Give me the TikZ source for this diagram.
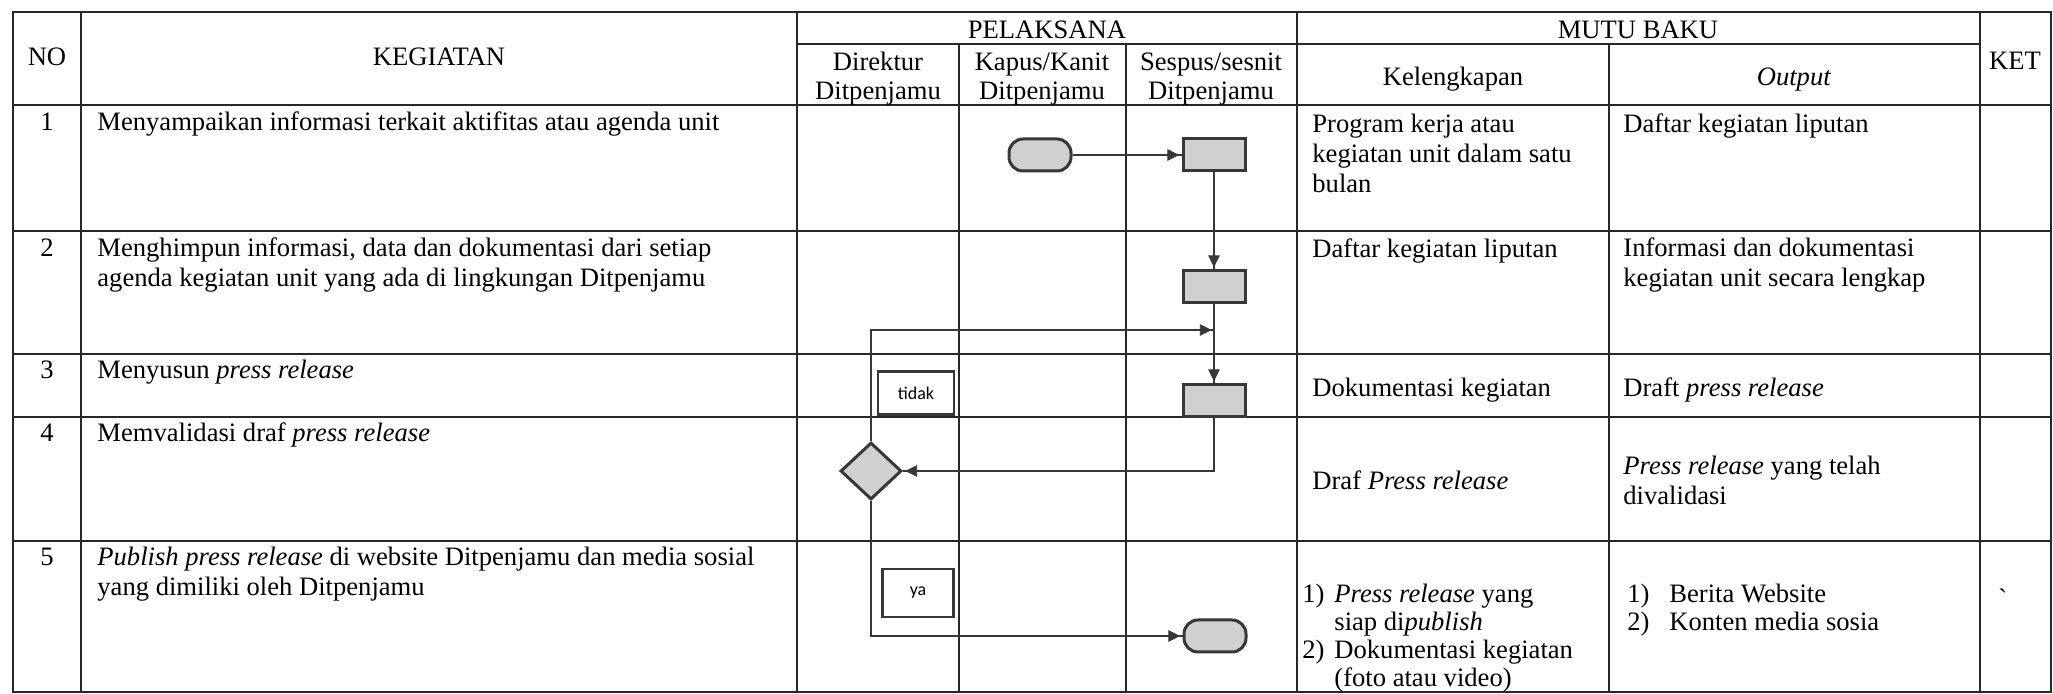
\documentclass[tikz,border=0pt]{standalone}
\usepackage{fontspec}
\setmainfont{Liberation Serif}
\newfontfamily\labelfont{Carlito}
\usepackage{tikz}
\usepackage{xcolor}
\definecolor{lgray}{RGB}{208,208,208}
\definecolor{dgray}{RGB}{55,55,55}
\definecolor{gridgray}{RGB}{40,40,40}
\usetikzlibrary{positioning, calc, shapes.geometric, arrows.meta, decorations.markings}
\newcommand{\cellbox}[1]{\begin{tabular}[t]{@{}l@{}}#1\end{tabular}}
\newcommand{\headbox}[1]{\begin{tabular}[t]{@{}c@{}}#1\end{tabular}}
\tikzstyle{Grid} = [line width=0.95pt, gridgray]
\tikzstyle{Cell} = [anchor=base west, inner sep=0pt,
font=\fontsize{13.3}{15}\selectfont]
\tikzstyle{ListCell} = [anchor=base west, inner sep=0pt,
font=\fontsize{13.3}{14}\selectfont]
\tikzstyle{Head} = [anchor=base, inner sep=0pt,
font=\fontsize{13.3}{14.5}\selectfont]
\tikzstyle{Terminal} = [draw=dgray, fill=lgray, line width=1.5pt,
rounded corners=7pt, minimum width=31pt, minimum height=16pt, inner sep=0pt]
\tikzstyle{Process} = [draw=dgray, fill=lgray, line width=1.5pt,
minimum width=31pt, minimum height=16pt, inner sep=0pt]
\tikzstyle{Decision} = [diamond, draw=dgray, fill=lgray, line width=1.5pt,
minimum width=30.5pt, minimum height=28.5pt, inner sep=0pt]
\tikzstyle{Answer} = [draw=dgray, fill=white, line width=1.4pt, inner sep=0pt,
font=\labelfont\fontsize{9}{10}\selectfont]
\tikzstyle{Arrow} = [
line width=1.35pt,
dgray,
decoration={
markings,
mark=at position 0.9999 with {
\arrow[dgray]{Triangle[length=7.5pt, width=7pt]}}},
preaction = {decorate}]

\begin{document}
\begin{tikzpicture}[x=0.5pt, y=-0.5pt]
    \fill[white] (0,0) rectangle (2053,694);
    \useasboundingbox (0,0) rectangle (2053,694);

    % table grid
    \draw[Grid] (13,12) rectangle (2051,692);
    \draw[Grid] (797,44) -- (1980,44);
    \draw[Grid] (13,105) -- (2051,105);
    \draw[Grid] (13,231) -- (2051,231);
    \draw[Grid] (13,354) -- (2051,354);
    \draw[Grid] (13,417) -- (2051,417);
    \draw[Grid] (13,541) -- (2051,541);
    \draw[Grid] (81,12) -- (81,692);
    \draw[Grid] (797,12) -- (797,692);
    \draw[Grid] (959,44) -- (959,692);
    \draw[Grid] (1126,44) -- (1126,692);
    \draw[Grid] (1297,12) -- (1297,692);
    \draw[Grid] (1609,44) -- (1609,692);
    \draw[Grid] (1980,12) -- (1980,692);

    % header
    \node[Head] (hno) at (47,66) {NO};
    \node[Head] (hkeg) at (439,66) {KEGIATAN};
    \node[Head] (hpel) at (1047,39) {PELAKSANA};
    \node[Head] (hmutu) at (1638,39) {MUTU BAKU};
    \node[Head] (hdir) at (878,71) {\headbox{Direktur\\Ditpenjamu}};
    \node[Head] (hkapus) at (1042,71) {\headbox{Kapus/Kanit\\Ditpenjamu}};
    \node[Head] (hsespus) at (1211,71) {\headbox{Sespus/sesnit\\Ditpenjamu}};
    \node[Head] (hkel) at (1453,86) {Kelengkapan};
    \node[Head] (hout) at (1794,86) {\textit{Output}};
    \node[Head] (hket) at (2015,70) {KET};

    % nomor
    \node[Head] (no1) at (47,131) {1};
    \node[Head] (no2) at (47,257) {2};
    \node[Head] (no3) at (47,379) {3};
    \node[Head] (no4) at (47,442) {4};
    \node[Head] (no5) at (47,566) {5};

    % kegiatan
    \node[Cell] (keg1) at (97,131) {Menyampaikan informasi terkait aktifitas atau agenda unit};
    \node[Cell] (keg2) at (97,257) {\cellbox{Menghimpun informasi, data dan dokumentasi dari setiap\\agenda kegiatan unit yang ada di lingkungan Ditpenjamu}};
    \node[Cell] (keg3) at (97,379) {Menyusun \textit{press release}};
    \node[Cell] (keg4) at (97,442) {Memvalidasi draf \textit{press release}};
    \node[Cell] (keg5) at (97,566) {\cellbox{\textit{Publish press release} di website Ditpenjamu dan media sosial\\yang dimiliki oleh Ditpenjamu}};

    % kelengkapan
    \node[Cell] (kel1) at (1312,133) {\cellbox{Program kerja atau\\kegiatan unit dalam satu\\bulan}};
    \node[Cell] (kel2) at (1312,258) {Daftar kegiatan liputan};
    \node[Cell] (kel3) at (1312,397) {Dokumentasi kegiatan};
    \node[Cell] (kel4) at (1312,490) {Draf \textit{Press release}};
    \node[ListCell] (kel5a) at (1302,603) {1)};
    \node[ListCell] (kel5b) at (1334,603) {\cellbox{\textit{Press release} yang\\siap di\textit{publish}}};
    \node[ListCell] (kel5c) at (1302,659) {2)};
    \node[ListCell] (kel5d) at (1334,659) {\cellbox{Dokumentasi kegiatan\\(foto atau video)}};

    % output
    \node[Cell] (out1) at (1623,133) {Daftar kegiatan liputan};
    \node[Cell] (out2) at (1623,257) {\cellbox{Informasi dan dokumentasi\\kegiatan unit secara lengkap}};
    \node[Cell] (out3) at (1623,397) {Draft \textit{press release}};
    \node[Cell] (out4) at (1623,475) {\cellbox{\textit{Press release} yang telah\\divalidasi}};
    \node[ListCell] (out5a) at (1627,603) {\cellbox{1)\\2)}};
    \node[ListCell] (out5b) at (1669,603) {\cellbox{Berita Website\\Konten media sosia}};
    \node[Cell] (ket5) at (1998,608) {\textasciigrave};

    % flow
    \node[Terminal] (mulai) at (1040,155) {};
    \node[Process] (p1) at (1214,155) {};
    \node[Process] (p2) at (1214,287) {};
    \node[Process] (p3) at (1214,401) {};
    \node[Decision] (cek) at (871,471) {};
    \node[Terminal] (selesai) at (1215,636) {};
    \node[Answer, minimum width=38pt, minimum height=21.5pt] (tidak) at (916,393) {tidak};
    \node[Answer, minimum width=35.5pt, minimum height=24pt] (ya) at (918,593) {ya};
    \coordinate (balik) at (1214,330);

    \draw[Arrow] (mulai.east) -- (p1.west);
    \draw[Arrow] (p1.south) -- (p2.north);
    \draw[Arrow] (p2.south) -- (p3.north);
    \draw[Arrow] (p3.south) |- (cek.east);
    \draw[Arrow] (cek.north) |- (balik);
    \draw[Arrow] (cek.south) |- (selesai.west);
\end{tikzpicture}
\end{document}
